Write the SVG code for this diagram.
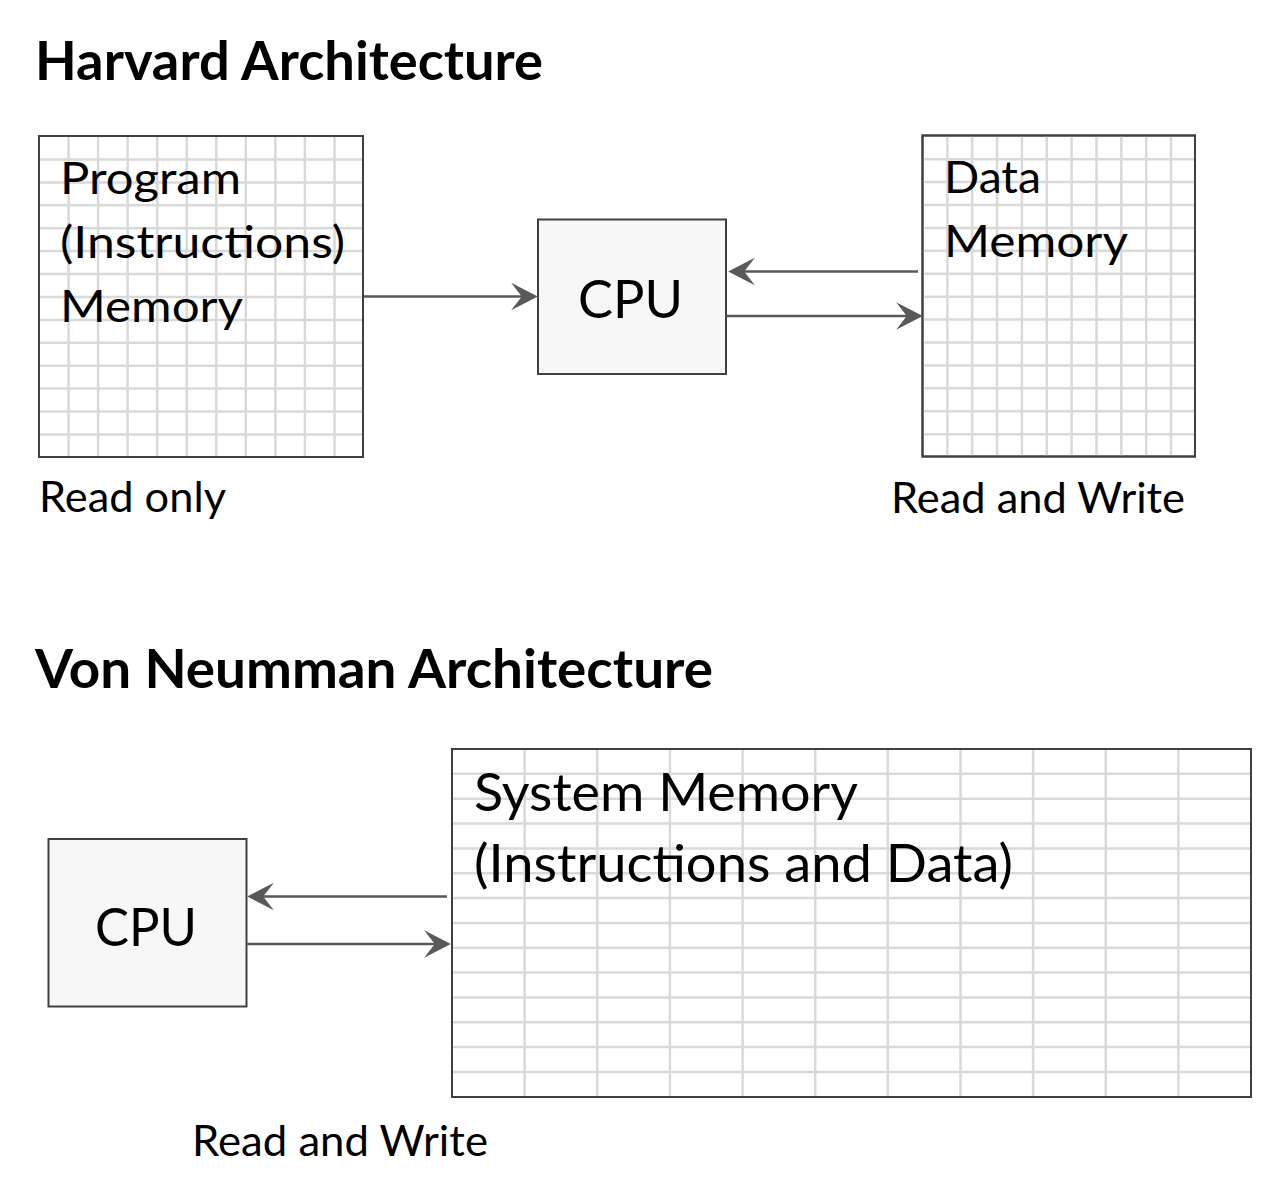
<svg xmlns="http://www.w3.org/2000/svg" width="1280" height="1183" viewBox="0 0 1280 1183">
<style>
.title{font-family:Lato,"Open Sans","Liberation Sans",sans-serif;font-weight:bold;font-size:53px;fill:#000}
.txt{font-family:Lato,"Open Sans","Liberation Sans",sans-serif;font-size:44px;fill:#000}
.big{font-family:Lato,"Open Sans","Liberation Sans",sans-serif;font-size:53px;fill:#000}
.lbl{font-family:Lato,"Open Sans","Liberation Sans",sans-serif;font-size:42px;fill:#000}
.box{fill:#fff;stroke:#404040;stroke-width:2}
.grid{fill:none;stroke:#d9d9d9;stroke-width:2.5}
.cpu{fill:#f7f7f7;stroke:#404040;stroke-width:2}
.conn{stroke:#595959;stroke-width:2.5;fill:none}
</style>
<defs>
<marker id="ah" markerUnits="userSpaceOnUse" markerWidth="32" markerHeight="32" viewBox="-27 -15 29 30" refX="-12" refY="0" orient="auto">
<path d="M0,0 L-25,-13 L-15,0 L-25,13 Z" fill="#595959"/>
</marker>
</defs>
<rect width="1280" height="1183" fill="#fff"/>

<text class="title" x="35" y="80" textLength="508" lengthAdjust="spacingAndGlyphs">Harvard Architecture</text>
<text class="title" x="35" y="688" textLength="678" lengthAdjust="spacingAndGlyphs">Von Neumman Architecture</text>

<g id="program-memory">
<rect class="box" x="39" y="136" width="324" height="321"/>
<path class="grid" d="M68.5,137V456M98.1,137V456M127.6,137V456M157.2,137V456M186.7,137V456M216.3,137V456M245.8,137V456M275.4,137V456M304.9,137V456M334.5,137V456M40,159.5H362M40,182.4H362M40,205.3H362M40,228.2H362M40,251.1H362M40,274.1H362M40,297H362M40,319.9H362M40,342.8H362M40,365.7H362M40,388.6H362M40,411.6H362M40,434.5H362"/>
<rect x="39" y="136" width="324" height="321" fill="none" stroke="#404040" stroke-width="2"/>
<text class="txt" x="60" y="194" textLength="181" lengthAdjust="spacingAndGlyphs">Program</text>
<text class="txt" x="60" y="258" textLength="285" lengthAdjust="spacingAndGlyphs">(Instructions)</text>
<text class="txt" x="60" y="322" textLength="183" lengthAdjust="spacingAndGlyphs">Memory</text>
<text class="lbl" x="39" y="512" textLength="187" lengthAdjust="spacingAndGlyphs">Read only</text>
</g>

<g id="cpu-harvard">
<rect class="cpu" x="538" y="219.5" width="188" height="154.5"/>
<text class="big" x="578" y="318" textLength="105" lengthAdjust="spacingAndGlyphs">CPU</text>
</g>

<g id="data-memory">
<rect class="box" x="922.5" y="135.5" width="272.5" height="321"/>
<path class="grid" d="M947.4,136.5V455.5M972.2,136.5V455.5M997.1,136.5V455.5M1021.9,136.5V455.5M1046.8,136.5V455.5M1071.6,136.5V455.5M1096.5,136.5V455.5M1121.3,136.5V455.5M1146.2,136.5V455.5M1171,136.5V455.5M923.5,159.2H1194M923.5,182.1H1194M923.5,205H1194M923.5,227.9H1194M923.5,250.8H1194M923.5,273.8H1194M923.5,296.7H1194M923.5,319.6H1194M923.5,342.5H1194M923.5,365.4H1194M923.5,388.3H1194M923.5,411.3H1194M923.5,434.2H1194"/>
<rect x="922.5" y="135.5" width="272.5" height="321" fill="none" stroke="#404040" stroke-width="2"/>
<text class="txt" x="944" y="193" textLength="97" lengthAdjust="spacingAndGlyphs">Data</text>
<text class="txt" x="944" y="257" textLength="184" lengthAdjust="spacingAndGlyphs">Memory</text>
<text class="lbl" x="891" y="513" textLength="294" lengthAdjust="spacingAndGlyphs">Read and Write</text>
</g>

<g id="cpu-vonneumann">
<rect class="cpu" x="48.5" y="839" width="198" height="167.5"/>
<text class="big" x="95" y="946" textLength="102" lengthAdjust="spacingAndGlyphs">CPU</text>
<text class="lbl" x="192" y="1156" textLength="296" lengthAdjust="spacingAndGlyphs">Read and Write</text>
</g>

<g id="system-memory">
<rect class="box" x="452" y="749" width="799" height="348"/>
<path class="grid" d="M524.6,750V1096M597.3,750V1096M669.9,750V1096M742.6,750V1096M815.2,750V1096M887.8,750V1096M960.5,750V1096M1033.1,750V1096M1105.8,750V1096M1178.4,750V1096M453,773.8H1250M453,798.7H1250M453,823.5H1250M453,848.4H1250M453,873.2H1250M453,898H1250M453,922.9H1250M453,947.7H1250M453,972.6H1250M453,997.4H1250M453,1022.2H1250M453,1047.1H1250M453,1071.9H1250"/>
<rect x="452" y="749" width="799" height="348" fill="none" stroke="#404040" stroke-width="2"/>
<text class="big" x="474" y="811" textLength="384" lengthAdjust="spacingAndGlyphs">System Memory</text>
<text class="big" x="474" y="882" textLength="539" lengthAdjust="spacingAndGlyphs">(Instructions and Data)</text>
</g>

<g id="connectors">
<line class="conn" x1="364" y1="296.5" x2="525" y2="296.5" marker-end="url(#ah)"/>
<line class="conn" x1="918" y1="271.5" x2="741" y2="271.5" marker-end="url(#ah)"/>
<line class="conn" x1="727" y1="316" x2="910" y2="316" marker-end="url(#ah)"/>
<line class="conn" x1="447" y1="896.5" x2="260" y2="896.5" marker-end="url(#ah)"/>
<line class="conn" x1="247" y1="944" x2="438" y2="944" marker-end="url(#ah)"/>
</g>
</svg>
